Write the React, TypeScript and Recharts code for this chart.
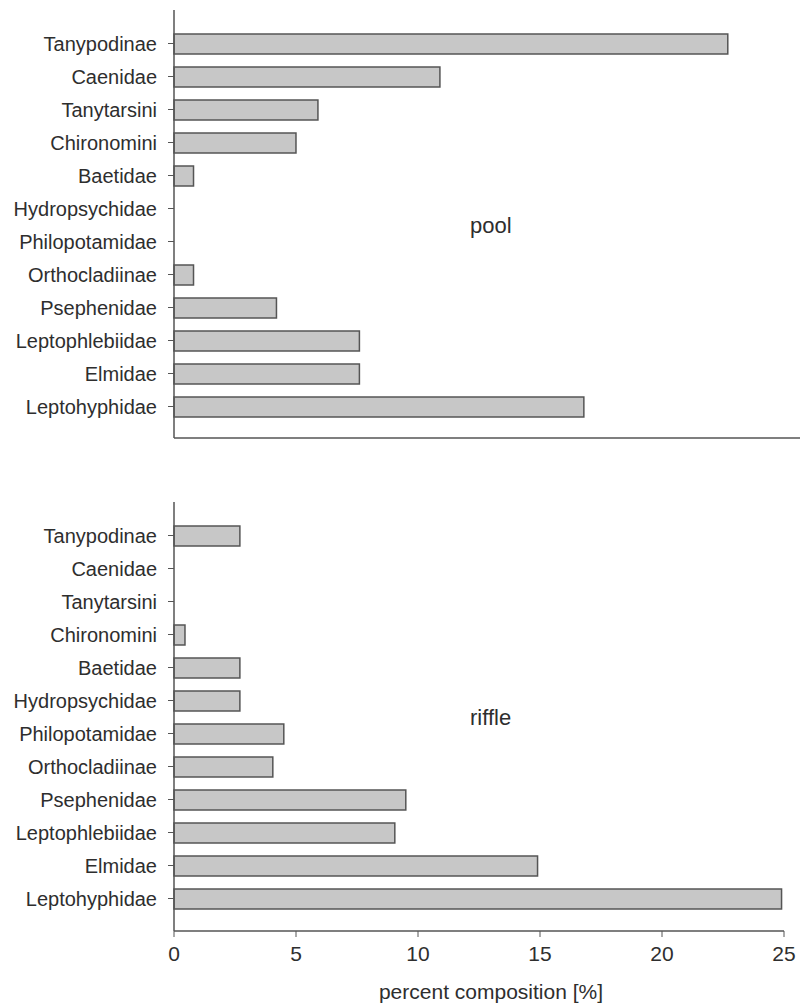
import React from "react";
import { BarChart, Bar, XAxis, YAxis } from "recharts";

const TAXA = [
  "Tanypodinae",
  "Caenidae",
  "Tanytarsini",
  "Chironomini",
  "Baetidae",
  "Hydropsychidae",
  "Philopotamidae",
  "Orthocladiinae",
  "Psephenidae",
  "Leptophlebiidae",
  "Elmidae",
  "Leptohyphidae",
];
const POOL = [22.7, 10.9, 5.9, 5.0, 0.8, 0, 0, 0.8, 4.2, 7.6, 7.6, 16.8];
const RIFFLE = [2.7, 0, 0, 0.45, 2.7, 2.7, 4.5, 4.05, 9.5, 9.05, 14.9, 24.9];
const X_TICKS = [0, 5, 10, 15, 20, 25];

const AXIS = "#555";
const TEXT = "#2e2e2e";
const FILL = "#c7c7c7";
const SANS = "'Liberation Sans', Arial, sans-serif";
const NARROW = "'Liberation Sans Narrow', 'Arial Narrow', 'Liberation Sans', sans-serif";

const poolData = TAXA.map((name, i) => ({ name, value: POOL[i] }));
const riffleData = TAXA.map((name, i) => ({ name, value: RIFFLE[i] }));

const yTick = { fontSize: 20, fill: TEXT, fontFamily: SANS };

export default function App() {
  return (
    <div
      style={{
        position: "absolute",
        left: 0,
        top: 0,
        width: 810,
        height: 1003,
        background: "#fff",
      }}
    >
      {/* pool */}
      <div style={{ position: "absolute", left: 0, top: 0 }}>
        <BarChart
          width={810}
          height={445}
          data={poolData}
          layout="vertical"
          margin={{ top: 10, right: 10, bottom: 0, left: 0 }}
        >
          <XAxis
            type="number"
            domain={[0, 25.66]}
            height={7}
            tick={false}
            tickLine={false}
            axisLine={{ stroke: AXIS, strokeWidth: 1.5 }}
          />
          <YAxis
            type="category"
            dataKey="name"
            width={174}
            interval={0}
            padding={{ top: 17, bottom: 15 }}
            tickSize={6}
            tickMargin={11}
            tick={yTick}
            tickLine={{ stroke: AXIS }}
            axisLine={{ stroke: AXIS, strokeWidth: 1.5 }}
          />
          <Bar
            dataKey="value"
            fill={FILL}
            stroke={AXIS}
            strokeWidth={1.5}
            barSize={20}
            isAnimationActive={false}
          />
        </BarChart>
      </div>

      {/* riffle */}
      <div style={{ position: "absolute", left: 0, top: 492 }}>
        <BarChart
          width={810}
          height={511}
          data={riffleData}
          layout="vertical"
          margin={{ top: 10, right: 26, bottom: 0, left: 0 }}
        >
          <XAxis
            type="number"
            domain={[0, 25]}
            ticks={X_TICKS}
            height={72}
            tickSize={6}
            tickMargin={9}
            tick={{ fontSize: 21, fill: TEXT, fontFamily: NARROW }}
            tickLine={{ stroke: AXIS }}
            axisLine={{ stroke: AXIS, strokeWidth: 1.5 }}
            label={{
              value: "percent composition [%]",
              position: "insideBottom",
              offset: 4,
              dx: 12,
              style: { fontSize: 21, fill: TEXT, fontFamily: NARROW },
            }}
          />
          <YAxis
            type="category"
            dataKey="name"
            width={174}
            interval={0}
            padding={{ top: 17, bottom: 16 }}
            tickSize={6}
            tickMargin={11}
            tick={yTick}
            tickLine={{ stroke: AXIS }}
            axisLine={{ stroke: AXIS, strokeWidth: 1.5 }}
          />
          <Bar
            dataKey="value"
            fill={FILL}
            stroke={AXIS}
            strokeWidth={1.5}
            barSize={20}
            isAnimationActive={false}
          />
        </BarChart>
      </div>

      <svg
        width={810}
        height={1003}
        style={{ position: "absolute", left: 0, top: 0, pointerEvents: "none" }}
      >
        <text x={470} y={233} fontSize={22} fill={TEXT} fontFamily={SANS}>
          pool
        </text>
        <text x={470} y={725} fontSize={22} fill={TEXT} fontFamily={SANS}>
          riffle
        </text>
      </svg>
    </div>
  );
}
